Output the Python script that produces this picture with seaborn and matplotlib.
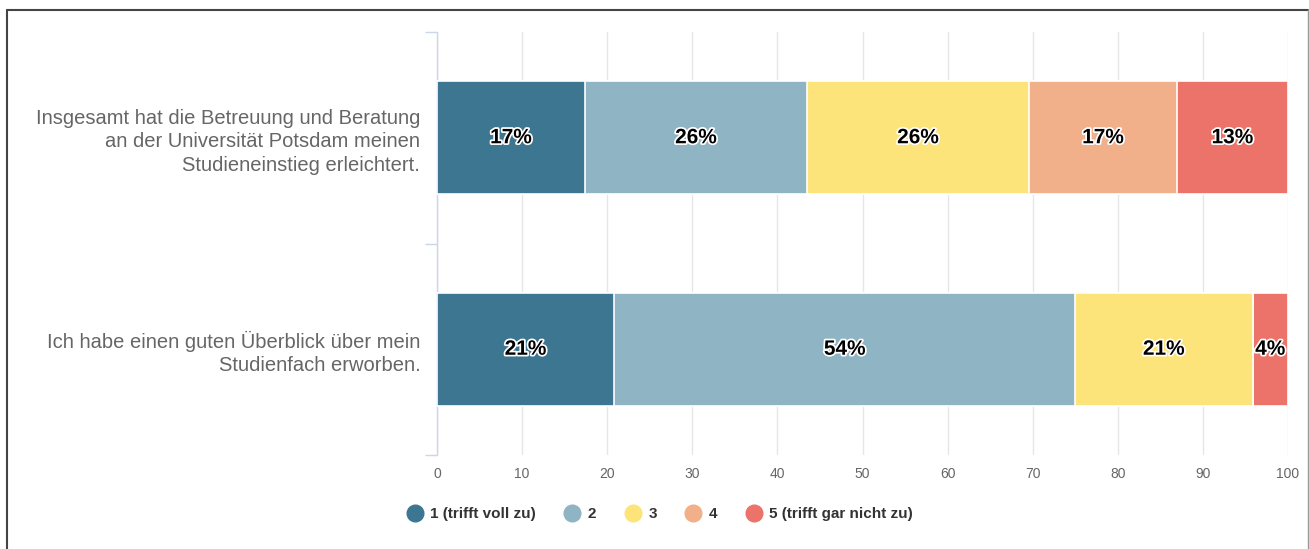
import matplotlib
matplotlib.use("Agg")
import matplotlib.pyplot as plt
import matplotlib.patheffects as pe
from matplotlib.lines import Line2D
import seaborn as sns
import pandas as pd
import numpy as np

# survey data (share of answers in percent)
questions = [
    "Insgesamt hat die Betreuung und Beratung\nan der Universität Potsdam meinen\nStudieneinstieg erleichtert.",
    "Ich habe einen guten Überblick über mein\nStudienfach erworben.",
]
answers = ["1 (trifft voll zu)", "2", "3", "4", "5 (trifft gar nicht zu)"]
q1_values = [17.39, 26.09, 26.09, 17.39, 13.04]
q2_values = [20.83, 54.17, 20.83, 0.0, 4.17]
colors = ["#3d7690", "#8fb4c4", "#fde47a", "#f2b08a", "#ec7369"]

sns.set_theme(style="white")
plt.rcParams["font.family"] = ["Liberation Sans", "DejaVu Sans"]

df = pd.DataFrame([q1_values, q2_values], columns=answers)
df["question"] = questions
cum = df[answers].cumsum(axis=1)

fig = plt.figure(figsize=(13.09, 5.49), dpi=100)
ax = fig.add_axes([437 / 1309, 1 - 455 / 549, (1288 - 437) / 1309, (455 - 32) / 549])

# stacked bars: draw cumulative totals from the last segment to the first
for ans, col in reversed(list(zip(answers, colors))):
    sns.barplot(x=cum[ans], y=df["question"], color=col, orient="h", saturation=1,
                width=0.535, edgecolor="white", linewidth=1.2, ax=ax, zorder=3)

# percentage labels
for i in range(len(df)):
    left = 0
    for ans in answers:
        v = df.loc[i, ans]
        if v > 0:
            ax.text(left + v / 2, i, f"{round(v):.0f}%", ha="center", va="center",
                    fontsize=15, fontweight="bold", color="black", zorder=5,
                    path_effects=[pe.withStroke(linewidth=2.5, foreground="white")])
        left += v

ax.set_xlim(0, 100)
ax.set_ylim(1.5, -0.5)
ax.set_xticks(np.arange(0, 101, 10))
ax.grid(axis="x", color="#e6e6e6", linewidth=1, zorder=0)
ax.set_axisbelow(True)
for s in ["top", "right", "bottom"]:
    ax.spines[s].set_visible(False)
ax.spines["left"].set_color("#ccd6eb")
ax.spines["left"].set_linewidth(1)
ax.set_xlabel("")
ax.set_ylabel("")
ax.tick_params(axis="x", length=0, labelsize=10, labelcolor="#666666", pad=9)
ax.tick_params(axis="y", which="major", left=False, length=0, labelsize=14.5,
               labelcolor="#666666", pad=12)
ax.set_yticks([-0.5, 0.5, 1.5], minor=True)
ax.tick_params(axis="y", which="minor", left=True, length=9, color="#ccd6eb", width=1)
for lbl in ax.get_yticklabels():
    lbl.set_horizontalalignment("right")
    lbl.set_multialignment("right")
    lbl.set_linespacing(1.28)

# legend with round markers
handles = [Line2D([0], [0], marker="o", linestyle="", markersize=12,
                  markerfacecolor=c, markeredgecolor=c) for c in colors]
leg = fig.legend(handles, answers, loc="center", bbox_to_anchor=(660 / 1309, 1 - 514 / 549),
                 ncol=5, frameon=False, fontsize=11, handletextpad=0.5,
                 handlelength=1.0, columnspacing=1.9)
for t in leg.get_texts():
    t.set_fontweight("bold")
    t.set_color("#333333")

# outer frame
fig.add_artist(Line2D([7 / 1309, 7 / 1309], [0, 1 - 10 / 549], color="#444444", linewidth=1.5))
fig.add_artist(Line2D([7 / 1309, 1308 / 1309], [1 - 10 / 549, 1 - 10 / 549], color="#444444", linewidth=1.5))
fig.add_artist(Line2D([1308 / 1309, 1308 / 1309], [0, 1 - 10 / 549], color="#999999", linewidth=1))

fig.savefig("out.png", dpi=100, facecolor="white")
